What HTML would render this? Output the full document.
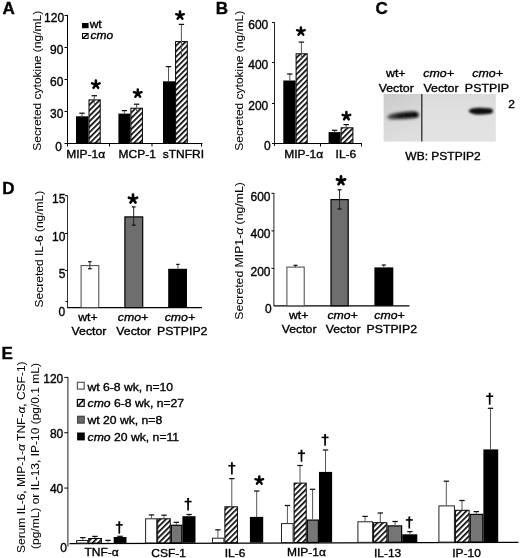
<!DOCTYPE html>
<html><head><meta charset="utf-8"><style>
html,body{margin:0;padding:0;background:#fff;}
svg{display:block;filter:blur(0.3px);}
text{font-family:"Liberation Sans", sans-serif;fill:#000;stroke:#000;stroke-width:0.35px;}
</style></head><body>
<svg width="520" height="558" viewBox="0 0 520 558">
<defs>
<pattern id="hatch" patternUnits="userSpaceOnUse" width="3.9" height="3.9" patternTransform="rotate(45)">
<rect width="3.9" height="3.9" fill="#fff"/><rect width="1.65" height="3.9" fill="#000"/></pattern>
<linearGradient id="wbgL" x1="0" y1="0" x2="0.3" y2="1">
<stop offset="0" stop-color="#c9c9c9"/><stop offset="0.5" stop-color="#d6d6d6"/><stop offset="1" stop-color="#dedede"/></linearGradient>
<linearGradient id="wbgR" x1="0" y1="0" x2="0" y2="1">
<stop offset="0" stop-color="#dadada"/><stop offset="0.4" stop-color="#e0e0e0"/><stop offset="1" stop-color="#e3e3e3"/></linearGradient>
<linearGradient id="bandg" x1="0" y1="0" x2="1" y2="0"><stop offset="0" stop-color="#555"/><stop offset="0.35" stop-color="#1a1a1a"/><stop offset="1" stop-color="#000"/></linearGradient>
<filter id="bl2" x="-20%" y="-100%" width="140%" height="300%"><feGaussianBlur stdDeviation="1.5"/></filter>
<filter id="bl1" x="-20%" y="-100%" width="140%" height="300%"><feGaussianBlur stdDeviation="1.3"/></filter>
</defs>
<rect width="520" height="558" fill="#fff"/>
<text x="2.4" y="14.4" font-size="17" text-anchor="start" font-weight="bold" font-style="normal" >A</text>
<text transform="translate(41.0,80.8) rotate(-90) scale(1.0753,1)" x="0" y="0" font-size="11.16" text-anchor="middle" style="stroke-width:0.05px" >Secreted cytokine (ng/mL)</text>
<line x1="67.5" y1="14.8" x2="67.5" y2="146.5" stroke="#000" stroke-width="1"/>
<line x1="64.5" y1="111.5" x2="67.5" y2="111.5" stroke="#000" stroke-width="1"/>
<text transform="translate(63.4,118.05) scale(1.0000,1)" font-size="12.00" text-anchor="end" font-style="normal" >30</text>
<line x1="64.5" y1="79.5" x2="67.5" y2="79.5" stroke="#000" stroke-width="1"/>
<text transform="translate(63.4,86.05) scale(1.0000,1)" font-size="12.00" text-anchor="end" font-style="normal" >60</text>
<line x1="64.5" y1="47.5" x2="67.5" y2="47.5" stroke="#000" stroke-width="1"/>
<text transform="translate(63.4,54.05) scale(1.0000,1)" font-size="12.00" text-anchor="end" font-style="normal" >90</text>
<line x1="64.5" y1="15.5" x2="67.5" y2="15.5" stroke="#000" stroke-width="1"/>
<text transform="translate(64.1,22.05) scale(1.0000,1)" font-size="12.00" text-anchor="end" font-style="normal" >120</text>
<text transform="translate(62.0,150.9) scale(1.0000,1)" font-size="12.00" text-anchor="end" font-style="normal" >0</text>
<line x1="64.5" y1="143.5" x2="202.5" y2="143.5" stroke="#000" stroke-width="1.1"/>
<line x1="109.5" y1="143.5" x2="109.5" y2="146.5" stroke="#000" stroke-width="1"/>
<line x1="152" y1="143.5" x2="152" y2="146.5" stroke="#000" stroke-width="1"/>
<line x1="201.5" y1="143.5" x2="201.5" y2="146.5" stroke="#000" stroke-width="1"/>
<rect x="76.00" y="116.30" width="12.50" height="26.70" fill="#000"/>
<line x1="82" y1="113.2" x2="82" y2="116.3" stroke="#555" stroke-width="1"/>
<line x1="79.3" y1="113.2" x2="84.7" y2="113.2" stroke="#111" stroke-width="1.25"/>
<rect x="89.00" y="99.90" width="11.20" height="43.10" fill="url(#hatch)" stroke="#000" stroke-width="1"/>
<line x1="94.3" y1="95.7" x2="94.3" y2="103.8" stroke="#555" stroke-width="1"/>
<line x1="91.6" y1="95.7" x2="97.0" y2="95.7" stroke="#111" stroke-width="1.25"/>
<rect x="118.40" y="113.60" width="12.00" height="29.40" fill="#000"/>
<line x1="124.4" y1="110.6" x2="124.4" y2="113.6" stroke="#555" stroke-width="1"/>
<line x1="121.7" y1="110.6" x2="127.10000000000001" y2="110.6" stroke="#111" stroke-width="1.25"/>
<rect x="130.90" y="108.20" width="11.50" height="34.80" fill="url(#hatch)" stroke="#000" stroke-width="1"/>
<line x1="136.6" y1="104.2" x2="136.6" y2="111" stroke="#555" stroke-width="1"/>
<line x1="133.9" y1="104.2" x2="139.29999999999998" y2="104.2" stroke="#111" stroke-width="1.25"/>
<rect x="163.00" y="81.30" width="12.10" height="61.70" fill="#000"/>
<line x1="168.5" y1="66.6" x2="168.5" y2="81.3" stroke="#555" stroke-width="1"/>
<line x1="165.8" y1="66.6" x2="171.2" y2="66.6" stroke="#111" stroke-width="1.25"/>
<rect x="175.60" y="41.60" width="11.70" height="101.40" fill="url(#hatch)" stroke="#000" stroke-width="1"/>
<line x1="181.4" y1="24.4" x2="181.4" y2="56" stroke="#555" stroke-width="1"/>
<line x1="178.70000000000002" y1="24.4" x2="184.1" y2="24.4" stroke="#111" stroke-width="1.25"/>
<path d="M95.85,84.60L95.85,80.60M95.85,84.60L99.65,83.36M95.85,84.60L98.20,87.84M95.85,84.60L93.50,87.84M95.85,84.60L92.05,83.36" stroke="#000" stroke-width="2.5" stroke-linecap="round" fill="none"/>
<path d="M137.75,93.40L137.75,89.40M137.75,93.40L141.55,92.16M137.75,93.40L140.10,96.64M137.75,93.40L135.40,96.64M137.75,93.40L133.95,92.16" stroke="#000" stroke-width="2.5" stroke-linecap="round" fill="none"/>
<path d="M180.00,15.40L180.00,11.40M180.00,15.40L183.80,14.16M180.00,15.40L182.35,18.64M180.00,15.40L177.65,18.64M180.00,15.40L176.20,14.16" stroke="#000" stroke-width="2.5" stroke-linecap="round" fill="none"/>
<text transform="translate(66.2,158) scale(1.0753,1)" font-size="11.16" text-anchor="start" font-style="normal" >MIP-1α</text>
<text transform="translate(118.5,158) scale(1.0753,1)" font-size="11.16" text-anchor="start" font-style="normal" >MCP-1</text>
<text transform="translate(162.8,157.5) scale(1.0753,1)" font-size="11.16" text-anchor="start" font-style="normal" >sTNFRI</text>
<rect x="82.00" y="23.00" width="6.60" height="5.20" fill="#000"/>
<text transform="translate(89.7,28.4) scale(1.0753,1)" font-size="11.16" text-anchor="start" font-style="normal" >wt</text>
<rect x="82.50" y="33.50" width="5.60" height="5.00" fill="#fff" stroke="#000" stroke-width="1"/>
<line x1="83.2" y1="38.0" x2="87.5" y2="34.0" stroke="#000" stroke-width="1.4"/>
<text transform="translate(90.4,38.9) scale(1.0753,1)" font-size="11.16" text-anchor="start" font-style="italic" >cmo</text>
<text x="215.8" y="13.8" font-size="17" text-anchor="start" font-weight="bold" font-style="normal" >B</text>
<text transform="translate(242.8,80.8) rotate(-90) scale(1.0753,1)" x="0" y="0" font-size="11.16" text-anchor="middle" style="stroke-width:0.05px" >Secreted cytokine (ng/mL)</text>
<line x1="274.5" y1="22.4" x2="274.5" y2="146" stroke="#222" stroke-width="1"/>
<line x1="272" y1="103.5" x2="274.5" y2="103.5" stroke="#000" stroke-width="1"/>
<text transform="translate(268.3,110.2) scale(1.0000,1)" font-size="12.00" text-anchor="end" font-style="normal" >200</text>
<line x1="272" y1="62.5" x2="274.5" y2="62.5" stroke="#000" stroke-width="1"/>
<text transform="translate(268.3,69.2) scale(1.0000,1)" font-size="12.00" text-anchor="end" font-style="normal" >400</text>
<line x1="272" y1="22.5" x2="274.5" y2="22.5" stroke="#000" stroke-width="1"/>
<text transform="translate(268.3,29.2) scale(1.0000,1)" font-size="12.00" text-anchor="end" font-style="normal" >600</text>
<text transform="translate(270.8,150.25) scale(1.0000,1)" font-size="12.00" text-anchor="end" font-style="normal" >0</text>
<line x1="272" y1="143.5" x2="362" y2="143.5" stroke="#000" stroke-width="1.1"/>
<line x1="320.5" y1="143.5" x2="320.5" y2="146.5" stroke="#000" stroke-width="1"/>
<line x1="361.5" y1="143.5" x2="361.5" y2="146.5" stroke="#000" stroke-width="1"/>
<rect x="283.30" y="80.50" width="12.30" height="62.50" fill="#000"/>
<line x1="289.8" y1="74" x2="289.8" y2="80.5" stroke="#555" stroke-width="1"/>
<line x1="287.1" y1="74" x2="292.5" y2="74" stroke="#111" stroke-width="1.25"/>
<rect x="296.10" y="53.80" width="11.10" height="89.20" fill="url(#hatch)" stroke="#000" stroke-width="1"/>
<line x1="301.4" y1="42.1" x2="301.4" y2="60" stroke="#555" stroke-width="1"/>
<line x1="298.7" y1="42.1" x2="304.09999999999997" y2="42.1" stroke="#111" stroke-width="1.25"/>
<rect x="328.60" y="132.10" width="12.00" height="10.90" fill="#000"/>
<line x1="334.6" y1="130.3" x2="334.6" y2="132.1" stroke="#555" stroke-width="1"/>
<line x1="331.90000000000003" y1="130.3" x2="337.3" y2="130.3" stroke="#111" stroke-width="1.25"/>
<rect x="341.10" y="127.80" width="11.80" height="15.20" fill="url(#hatch)" stroke="#000" stroke-width="1"/>
<line x1="346.2" y1="124.6" x2="346.2" y2="129" stroke="#555" stroke-width="1"/>
<line x1="343.5" y1="124.6" x2="348.9" y2="124.6" stroke="#111" stroke-width="1.25"/>
<path d="M300.90,31.40L300.90,27.40M300.90,31.40L304.70,30.16M300.90,31.40L303.25,34.64M300.90,31.40L298.55,34.64M300.90,31.40L297.10,30.16" stroke="#000" stroke-width="2.5" stroke-linecap="round" fill="none"/>
<path d="M346.40,116.10L346.40,112.10M346.40,116.10L350.20,114.86M346.40,116.10L348.75,119.34M346.40,116.10L344.05,119.34M346.40,116.10L342.60,114.86" stroke="#000" stroke-width="2.5" stroke-linecap="round" fill="none"/>
<text transform="translate(284.2,158.2) scale(1.0753,1)" font-size="11.16" text-anchor="start" font-style="normal" >MIP-1α</text>
<text transform="translate(335.6,158.2) scale(1.0753,1)" font-size="11.16" text-anchor="start" font-style="normal" >IL-6</text>
<text x="375.4" y="13.8" font-size="17" text-anchor="start" font-weight="bold" font-style="normal" >C</text>
<text transform="translate(395.8,77.2) scale(1.0753,1)" font-size="11.53" text-anchor="middle" font-style="normal" >wt+</text>
<text transform="translate(396.2,91.7) scale(1.0753,1)" font-size="11.53" text-anchor="middle" font-style="normal" >Vector</text>
<text transform="translate(438.6,77.2) scale(1.0753,1)" font-size="11.53" text-anchor="middle" font-style="italic" >cmo+</text>
<text transform="translate(441.0,91.7) scale(1.0753,1)" font-size="11.53" text-anchor="middle" font-style="normal" >Vector</text>
<text transform="translate(487.6,77.2) scale(1.0753,1)" font-size="11.53" text-anchor="middle" font-style="italic" >cmo+</text>
<text transform="translate(486.9,91.7) scale(1.0753,1)" font-size="11.53" text-anchor="middle" font-style="normal" >PSTPIP</text>
<rect x="383.60" y="94.00" width="38.00" height="47.60" fill="url(#wbgL)"/>
<rect x="421.60" y="94.00" width="74.20" height="47.60" fill="url(#wbgR)"/>
<g filter="url(#bl2)"><path d="M387.5,116 C390,113.5 401,111.8 413,111.5 C419.8,111.3 420.2,116.6 417,117.5 C408,118.9 395,119.6 389,119 C387.5,118.6 387.2,117.1 387.5,116 Z" fill="url(#bandg)"/></g>
<g filter="url(#bl1)"><path d="M468.5,111 C470,107.6 480,107.0 490.5,108.6 C494,109.5 494,113 490,113.8 C481,115.2 471,115 468.5,111 Z" fill="#080808"/></g>
<line x1="421.8" y1="94" x2="421.8" y2="141.6" stroke="#2a2a2a" stroke-width="1.3"/>
<text transform="translate(508.3,108.4) scale(1.0753,1)" font-size="11.16" text-anchor="start" font-style="normal" >2</text>
<text transform="translate(443.0,160.2) scale(1.0753,1)" font-size="11.16" text-anchor="middle" font-style="normal" >WB: PSTPIP2</text>
<text x="2.2" y="194" font-size="17" text-anchor="start" font-weight="bold" font-style="normal" >D</text>
<text transform="translate(42.6,249.1) rotate(-90) scale(1.0753,1)" x="0" y="0" font-size="11.16" text-anchor="middle" style="stroke-width:0.05px" >Secreted IL-6 (ng/mL)</text>
<line x1="67.5" y1="195.5" x2="67.5" y2="308" stroke="#333" stroke-width="1"/>
<line x1="65" y1="195.7" x2="67.5" y2="195.7" stroke="#000" stroke-width="1"/>
<text transform="translate(65.4,202.89999999999998) scale(1.0000,1)" font-size="12.00" text-anchor="end" font-style="normal" >15</text>
<line x1="65" y1="233.5" x2="67.5" y2="233.5" stroke="#000" stroke-width="1"/>
<text transform="translate(65.4,240.7) scale(1.0000,1)" font-size="12.00" text-anchor="end" font-style="normal" >10</text>
<line x1="65" y1="270.5" x2="67.5" y2="270.5" stroke="#000" stroke-width="1"/>
<text transform="translate(65.4,277.7) scale(1.0000,1)" font-size="12.00" text-anchor="end" font-style="normal" >5</text>
<line x1="65.5" y1="301.5" x2="67.5" y2="301.5" stroke="#000" stroke-width="1"/>
<text transform="translate(65.1,315.55) scale(1.0000,1)" font-size="12.00" text-anchor="end" font-style="normal" >0</text>
<line x1="67.5" y1="307.6" x2="202" y2="307.6" stroke="#000" stroke-width="1.3"/>
<rect x="81.10" y="265.60" width="17.70" height="42.00" fill="#fff" stroke="#444" stroke-width="1"/>
<line x1="89.9" y1="261.7" x2="89.9" y2="268.7" stroke="#333" stroke-width="1"/>
<line x1="88.10000000000001" y1="261.7" x2="91.7" y2="261.7" stroke="#111" stroke-width="1.25"/>
<line x1="88.1" y1="268.7" x2="91.7" y2="268.7" stroke="#111" stroke-width="1.3"/>
<rect x="124.90" y="216.90" width="17.80" height="90.70" fill="#6e6e6e" stroke="#000" stroke-width="1.2"/>
<line x1="133.7" y1="206.9" x2="133.7" y2="225.2" stroke="#222" stroke-width="1"/>
<line x1="131.79999999999998" y1="206.9" x2="135.6" y2="206.9" stroke="#111" stroke-width="1.25"/>
<line x1="131.8" y1="225.2" x2="135.6" y2="225.2" stroke="#111" stroke-width="1.3"/>
<rect x="168.20" y="268.80" width="18.80" height="38.80" fill="#000"/>
<line x1="177.9" y1="264.4" x2="177.9" y2="268.8" stroke="#555" stroke-width="1"/>
<line x1="176.20000000000002" y1="264.4" x2="179.6" y2="264.4" stroke="#111" stroke-width="1.25"/>
<path d="M133.00,199.00L133.00,194.70M133.00,199.00L137.09,197.67M133.00,199.00L135.53,202.48M133.00,199.00L130.47,202.48M133.00,199.00L128.91,197.67" stroke="#000" stroke-width="2.7" stroke-linecap="round" fill="none"/>
<text transform="translate(87.9,321.3) scale(1.0753,1)" font-size="11.44" text-anchor="middle" font-style="normal" >wt+</text>
<text transform="translate(89.0,335.3) scale(1.0753,1)" font-size="11.44" text-anchor="middle" font-style="normal" >Vector</text>
<text transform="translate(133.0,321.3) scale(1.0753,1)" font-size="11.44" text-anchor="middle" font-style="italic" >cmo+</text>
<text transform="translate(133.7,335.3) scale(1.0753,1)" font-size="11.44" text-anchor="middle" font-style="normal" >Vector</text>
<text transform="translate(179.9,321.3) scale(1.0753,1)" font-size="11.44" text-anchor="middle" font-style="italic" >cmo+</text>
<text transform="translate(182.2,335.3) scale(1.0753,1)" font-size="11.44" text-anchor="middle" font-style="normal" >PSTPIP2</text>
<text transform="translate(243.2,251) rotate(-90) scale(1.0753,1)" x="0" y="0" font-size="11.39" text-anchor="middle" style="stroke-width:0.05px" >Secreted MIP1-<tspan font-style="italic">α</tspan> (ng/mL)</text>
<line x1="273.9" y1="193" x2="273.9" y2="306" stroke="#333" stroke-width="1.1"/>
<line x1="271.5" y1="193.3" x2="273.9" y2="193.3" stroke="#000" stroke-width="1"/>
<text transform="translate(270.5,200.60000000000002) scale(1.0000,1)" font-size="12.00" text-anchor="end" font-style="normal" >600</text>
<line x1="271.5" y1="230.9" x2="273.9" y2="230.9" stroke="#000" stroke-width="1"/>
<text transform="translate(270.5,238.20000000000002) scale(1.0000,1)" font-size="12.00" text-anchor="end" font-style="normal" >400</text>
<line x1="271.5" y1="268.4" x2="273.9" y2="268.4" stroke="#000" stroke-width="1"/>
<text transform="translate(270.5,275.7) scale(1.0000,1)" font-size="12.00" text-anchor="end" font-style="normal" >200</text>
<text transform="translate(271.6,312.75) scale(1.0000,1)" font-size="12.00" text-anchor="end" font-style="normal" >0</text>
<line x1="273.9" y1="305.8" x2="409.4" y2="305.8" stroke="#000" stroke-width="1.3"/>
<rect x="286.90" y="267.10" width="17.30" height="38.70" fill="#fff" stroke="#444" stroke-width="1"/>
<line x1="295.5" y1="265.3" x2="295.5" y2="267.5" stroke="#555" stroke-width="1"/>
<line x1="293.5" y1="265.3" x2="297.5" y2="265.3" stroke="#111" stroke-width="1.25"/>
<rect x="331.00" y="199.60" width="17.20" height="106.20" fill="#6e6e6e" stroke="#000" stroke-width="1.2"/>
<line x1="339.6" y1="189.8" x2="339.6" y2="209" stroke="#222" stroke-width="1"/>
<line x1="337.6" y1="189.8" x2="341.6" y2="189.8" stroke="#111" stroke-width="1.25"/>
<line x1="337.5" y1="209" x2="341.5" y2="209" stroke="#111" stroke-width="1.3"/>
<rect x="374.40" y="267.40" width="18.90" height="38.40" fill="#000"/>
<line x1="383.8" y1="265" x2="383.8" y2="267.4" stroke="#555" stroke-width="1"/>
<line x1="381.8" y1="265" x2="385.8" y2="265" stroke="#111" stroke-width="1.25"/>
<path d="M341.00,180.70L341.00,176.40M341.00,180.70L345.09,179.37M341.00,180.70L343.53,184.18M341.00,180.70L338.47,184.18M341.00,180.70L336.91,179.37" stroke="#000" stroke-width="2.7" stroke-linecap="round" fill="none"/>
<text transform="translate(298.7,318.6) scale(1.0753,1)" font-size="11.44" text-anchor="middle" font-style="normal" >wt+</text>
<text transform="translate(299.1,333.4) scale(1.0753,1)" font-size="11.44" text-anchor="middle" font-style="normal" >Vector</text>
<text transform="translate(342.6,318.6) scale(1.0753,1)" font-size="11.44" text-anchor="middle" font-style="italic" >cmo+</text>
<text transform="translate(343.1,333.4) scale(1.0753,1)" font-size="11.44" text-anchor="middle" font-style="normal" >Vector</text>
<text transform="translate(389.5,318.6) scale(1.0753,1)" font-size="11.44" text-anchor="middle" font-style="italic" >cmo+</text>
<text transform="translate(391.8,333.4) scale(1.0753,1)" font-size="11.44" text-anchor="middle" font-style="normal" >PSTPIP2</text>
<text x="1.6" y="359.3" font-size="17" text-anchor="start" font-weight="bold" font-style="normal" >E</text>
<text transform="translate(24.6,457.2) rotate(-90) scale(1.0753,1)" x="0" y="0" font-size="11.16" text-anchor="middle" style="stroke-width:0.05px" >Serum IL-6, MIP-1-<tspan font-style="italic">α</tspan> TNF-<tspan font-style="italic">α</tspan>, CSF-1)</text>
<text transform="translate(38.6,456) rotate(-90) scale(1.0753,1)" x="0" y="0" font-size="11.16" text-anchor="middle" style="stroke-width:0.05px" >(pg/mL) or IL-13, IP-10 (pg/0.1 mL)</text>
<line x1="67.9" y1="377" x2="67.9" y2="546.5" stroke="#333" stroke-width="1.1"/>
<line x1="64.3" y1="488.06666666666666" x2="67.9" y2="488.06666666666666" stroke="#000" stroke-width="1"/>
<text transform="translate(63.3,493.3666666666667) scale(1.0000,1)" font-size="12.00" text-anchor="end" font-style="normal" >40</text>
<line x1="64.3" y1="432.7333333333333" x2="67.9" y2="432.7333333333333" stroke="#000" stroke-width="1"/>
<text transform="translate(63.3,438.0333333333333) scale(1.0000,1)" font-size="12.00" text-anchor="end" font-style="normal" >80</text>
<line x1="64.3" y1="377.4" x2="67.9" y2="377.4" stroke="#000" stroke-width="1"/>
<text transform="translate(63.3,382.7) scale(1.0000,1)" font-size="12.00" text-anchor="end" font-style="normal" >120</text>
<text transform="translate(67.0,551.65) scale(1.0000,1)" font-size="12.00" text-anchor="end" font-style="normal" >0</text>
<line x1="69.5" y1="543.6" x2="518.5" y2="542.4" stroke="#000" stroke-width="1.2"/>
<rect x="77.40" y="382.30" width="6.80" height="6.80" fill="#fff" stroke="#555" stroke-width="1.2"/>
<text transform="translate(87.4,390.6) scale(1.0753,1)" font-size="11.35" text-anchor="start" font-style="normal" >wt 6-8 wk, n=10</text>
<rect x="77.40" y="399.50" width="6.80" height="6.80" fill="#fff" stroke="#000" stroke-width="1.2"/>
<line x1="78.39999999999999" y1="405.5" x2="83.39999999999999" y2="400.29999999999995" stroke="#000" stroke-width="1.6"/>
<text transform="translate(87.6,407.40000000000003) scale(1.0753,1)" font-size="11.35" text-anchor="start" font-style="normal" ><tspan font-style="italic">cmo</tspan> 6-8 wk, n=27</text>
<rect x="77.60" y="416.30" width="6.60" height="6.80" fill="#6a6a6a" stroke="#444" stroke-width="1.2"/>
<text transform="translate(87.4,423.90000000000003) scale(1.0753,1)" font-size="11.35" text-anchor="start" font-style="normal" >wt 20 wk, n=8</text>
<rect x="77.10" y="432.50" width="7.70" height="7.90" fill="#000"/>
<text transform="translate(87.6,441.40000000000003) scale(1.0753,1)" font-size="11.35" text-anchor="start" font-style="normal" ><tspan font-style="italic">cmo</tspan> 20 wk, n=11</text>
<rect x="76.60" y="540.50" width="11.10" height="2.58" fill="#fff" stroke="#222" stroke-width="1"/>
<line x1="82.8" y1="537.6" x2="82.8" y2="540.0" stroke="#555" stroke-width="1"/>
<line x1="80.1" y1="537.6" x2="85.5" y2="537.6" stroke="#111" stroke-width="1.25"/>
<rect x="88.70" y="538.50" width="12.70" height="4.55" fill="url(#hatch)" stroke="#000" stroke-width="1"/>
<line x1="94.9" y1="536.4" x2="94.9" y2="538.0" stroke="#555" stroke-width="1"/>
<line x1="92.2" y1="536.4" x2="97.60000000000001" y2="536.4" stroke="#111" stroke-width="1.25"/>
<line x1="108" y1="540.4" x2="108" y2="542.6" stroke="#555" stroke-width="1"/>
<line x1="105.3" y1="540.4" x2="110.7" y2="540.4" stroke="#111" stroke-width="1.25"/>
<rect x="113.70" y="537.00" width="12.80" height="5.98" fill="#000"/>
<line x1="120" y1="536.3" x2="120" y2="537" stroke="#555" stroke-width="1"/>
<line x1="117.3" y1="536.3" x2="122.7" y2="536.3" stroke="#111" stroke-width="1.25"/>
<rect x="145.60" y="518.80" width="11.10" height="24.10" fill="#fff" stroke="#222" stroke-width="1"/>
<line x1="151.4" y1="514.9" x2="151.4" y2="518.3" stroke="#555" stroke-width="1"/>
<line x1="148.70000000000002" y1="514.9" x2="154.1" y2="514.9" stroke="#111" stroke-width="1.25"/>
<rect x="157.70" y="518.80" width="12.50" height="24.07" fill="url(#hatch)" stroke="#000" stroke-width="1"/>
<line x1="164" y1="515.2" x2="164" y2="518.3" stroke="#555" stroke-width="1"/>
<line x1="161.3" y1="515.2" x2="166.7" y2="515.2" stroke="#111" stroke-width="1.25"/>
<rect x="171.30" y="525.30" width="10.50" height="17.53" fill="#767676" stroke="#000" stroke-width="1.2"/>
<line x1="176.3" y1="522.3" x2="176.3" y2="524.7" stroke="#555" stroke-width="1"/>
<line x1="173.60000000000002" y1="522.3" x2="179.0" y2="522.3" stroke="#111" stroke-width="1.25"/>
<rect x="182.40" y="516.20" width="13.10" height="26.60" fill="#000"/>
<line x1="189.1" y1="514.5" x2="189.1" y2="516.2" stroke="#555" stroke-width="1"/>
<line x1="186.4" y1="514.5" x2="191.79999999999998" y2="514.5" stroke="#111" stroke-width="1.25"/>
<rect x="212.50" y="538.20" width="11.40" height="4.52" fill="#fff" stroke="#222" stroke-width="1"/>
<line x1="217.9" y1="529.8" x2="217.9" y2="537.7" stroke="#555" stroke-width="1"/>
<line x1="215.20000000000002" y1="529.8" x2="220.6" y2="529.8" stroke="#111" stroke-width="1.25"/>
<rect x="224.90" y="506.80" width="12.50" height="35.89" fill="url(#hatch)" stroke="#000" stroke-width="1"/>
<line x1="231.8" y1="478.6" x2="231.8" y2="506.3" stroke="#555" stroke-width="1"/>
<line x1="229.10000000000002" y1="478.6" x2="234.5" y2="478.6" stroke="#111" stroke-width="1.25"/>
<rect x="249.90" y="516.90" width="13.30" height="25.72" fill="#000"/>
<line x1="256.7" y1="491" x2="256.7" y2="516.9" stroke="#555" stroke-width="1"/>
<line x1="254.0" y1="491" x2="259.4" y2="491" stroke="#111" stroke-width="1.25"/>
<rect x="281.50" y="523.60" width="11.60" height="18.93" fill="#fff" stroke="#222" stroke-width="1"/>
<line x1="287.4" y1="505.5" x2="287.4" y2="523.1" stroke="#555" stroke-width="1"/>
<line x1="284.7" y1="505.5" x2="290.09999999999997" y2="505.5" stroke="#111" stroke-width="1.25"/>
<rect x="294.10" y="483.10" width="12.10" height="59.40" fill="url(#hatch)" stroke="#000" stroke-width="1"/>
<line x1="300" y1="465.5" x2="300" y2="482.6" stroke="#555" stroke-width="1"/>
<line x1="297.3" y1="465.5" x2="302.7" y2="465.5" stroke="#111" stroke-width="1.25"/>
<rect x="307.30" y="520.10" width="11.10" height="22.37" fill="#767676" stroke="#000" stroke-width="1.2"/>
<line x1="312.6" y1="489.3" x2="312.6" y2="519.5" stroke="#555" stroke-width="1"/>
<line x1="309.90000000000003" y1="489.3" x2="315.3" y2="489.3" stroke="#111" stroke-width="1.25"/>
<rect x="319.00" y="471.90" width="13.10" height="70.53" fill="#000"/>
<line x1="325.5" y1="450" x2="325.5" y2="471.9" stroke="#555" stroke-width="1"/>
<line x1="322.8" y1="450" x2="328.2" y2="450" stroke="#111" stroke-width="1.25"/>
<rect x="357.90" y="521.80" width="14.70" height="20.53" fill="#fff" stroke="#222" stroke-width="1"/>
<line x1="365.1" y1="516.4" x2="365.1" y2="521.3" stroke="#555" stroke-width="1"/>
<line x1="362.40000000000003" y1="516.4" x2="367.8" y2="516.4" stroke="#111" stroke-width="1.25"/>
<rect x="373.60" y="522.70" width="13.30" height="19.59" fill="url(#hatch)" stroke="#000" stroke-width="1"/>
<line x1="380.3" y1="513" x2="380.3" y2="522.2" stroke="#555" stroke-width="1"/>
<line x1="377.6" y1="513" x2="383.0" y2="513" stroke="#111" stroke-width="1.25"/>
<rect x="388.00" y="525.90" width="13.60" height="16.35" fill="#767676" stroke="#000" stroke-width="1.2"/>
<line x1="395.1" y1="521.5" x2="395.1" y2="525.3" stroke="#555" stroke-width="1"/>
<line x1="392.40000000000003" y1="521.5" x2="397.8" y2="521.5" stroke="#111" stroke-width="1.25"/>
<rect x="402.20" y="534.30" width="15.10" height="7.91" fill="#000"/>
<line x1="409.9" y1="531.6" x2="409.9" y2="534.3" stroke="#555" stroke-width="1"/>
<line x1="407.2" y1="531.6" x2="412.59999999999997" y2="531.6" stroke="#111" stroke-width="1.25"/>
<rect x="438.90" y="505.90" width="15.50" height="36.21" fill="#fff" stroke="#222" stroke-width="1"/>
<line x1="446.3" y1="481.2" x2="446.3" y2="505.4" stroke="#555" stroke-width="1"/>
<line x1="443.6" y1="481.2" x2="449.0" y2="481.2" stroke="#111" stroke-width="1.25"/>
<rect x="455.40" y="510.30" width="13.70" height="31.77" fill="url(#hatch)" stroke="#000" stroke-width="1"/>
<line x1="462" y1="500.5" x2="462" y2="509.8" stroke="#555" stroke-width="1"/>
<line x1="459.3" y1="500.5" x2="464.7" y2="500.5" stroke="#111" stroke-width="1.25"/>
<rect x="470.20" y="514.40" width="12.60" height="27.63" fill="#767676" stroke="#000" stroke-width="1.2"/>
<line x1="476.3" y1="511.6" x2="476.3" y2="513.8" stroke="#555" stroke-width="1"/>
<line x1="473.6" y1="511.6" x2="479.0" y2="511.6" stroke="#111" stroke-width="1.25"/>
<rect x="483.40" y="449.40" width="14.80" height="92.59" fill="#000"/>
<line x1="490.5" y1="408.3" x2="490.5" y2="449.4" stroke="#555" stroke-width="1"/>
<line x1="487.8" y1="408.3" x2="493.2" y2="408.3" stroke="#111" stroke-width="1.25"/>
<path d="M118.35,521.30 L120.25,521.30 L120.10,533.80 L118.50,533.80 Z" fill="#000"/>
<line x1="115.8" y1="524.925" x2="122.8" y2="524.925" stroke="#000" stroke-width="1.6"/>
<path d="M187.15,497.90 L189.05,497.90 L188.90,510.60 L187.30,510.60 Z" fill="#000"/>
<line x1="184.6" y1="501.58299999999997" x2="191.6" y2="501.58299999999997" stroke="#000" stroke-width="1.6"/>
<path d="M230.95,462.20 L232.85,462.20 L232.70,474.40 L231.10,474.40 Z" fill="#000"/>
<line x1="228.4" y1="465.738" x2="235.4" y2="465.738" stroke="#000" stroke-width="1.6"/>
<path d="M259.30,480.40L259.30,476.40M259.30,480.40L263.10,479.16M259.30,480.40L261.65,483.64M259.30,480.40L256.95,483.64M259.30,480.40L255.50,479.16" stroke="#000" stroke-width="2.5" stroke-linecap="round" fill="none"/>
<path d="M300.55,449.80 L302.45,449.80 L302.30,461.70 L300.70,461.70 Z" fill="#000"/>
<line x1="298.0" y1="453.251" x2="305.0" y2="453.251" stroke="#000" stroke-width="1.6"/>
<path d="M324.15,434.00 L326.05,434.00 L325.90,445.80 L324.30,445.80 Z" fill="#000"/>
<line x1="321.6" y1="437.422" x2="328.6" y2="437.422" stroke="#000" stroke-width="1.6"/>
<path d="M408.35,516.40 L410.25,516.40 L410.10,528.60 L408.50,528.60 Z" fill="#000"/>
<line x1="405.8" y1="519.938" x2="412.8" y2="519.938" stroke="#000" stroke-width="1.6"/>
<path d="M488.75,392.70 L490.65,392.70 L490.50,404.70 L488.90,404.70 Z" fill="#000"/>
<line x1="486.2" y1="396.18" x2="493.2" y2="396.18" stroke="#000" stroke-width="1.6"/>
<text transform="translate(101.6,556) scale(1.0753,1)" font-size="11.16" text-anchor="middle" font-style="normal" >TNF-α</text>
<text transform="translate(168.6,556.5) scale(1.0753,1)" font-size="11.16" text-anchor="middle" font-style="normal" >CSF-1</text>
<text transform="translate(235,556.5) scale(1.0753,1)" font-size="11.16" text-anchor="middle" font-style="normal" >IL-6</text>
<text transform="translate(306.5,555.5) scale(1.0753,1)" font-size="11.16" text-anchor="middle" font-style="normal" >MIP-1α</text>
<text transform="translate(387.6,556.5) scale(1.0753,1)" font-size="11.16" text-anchor="middle" font-style="normal" >IL-13</text>
<text transform="translate(466.5,557) scale(1.0753,1)" font-size="11.16" text-anchor="middle" font-style="normal" >IP-10</text>
</svg></body></html>
